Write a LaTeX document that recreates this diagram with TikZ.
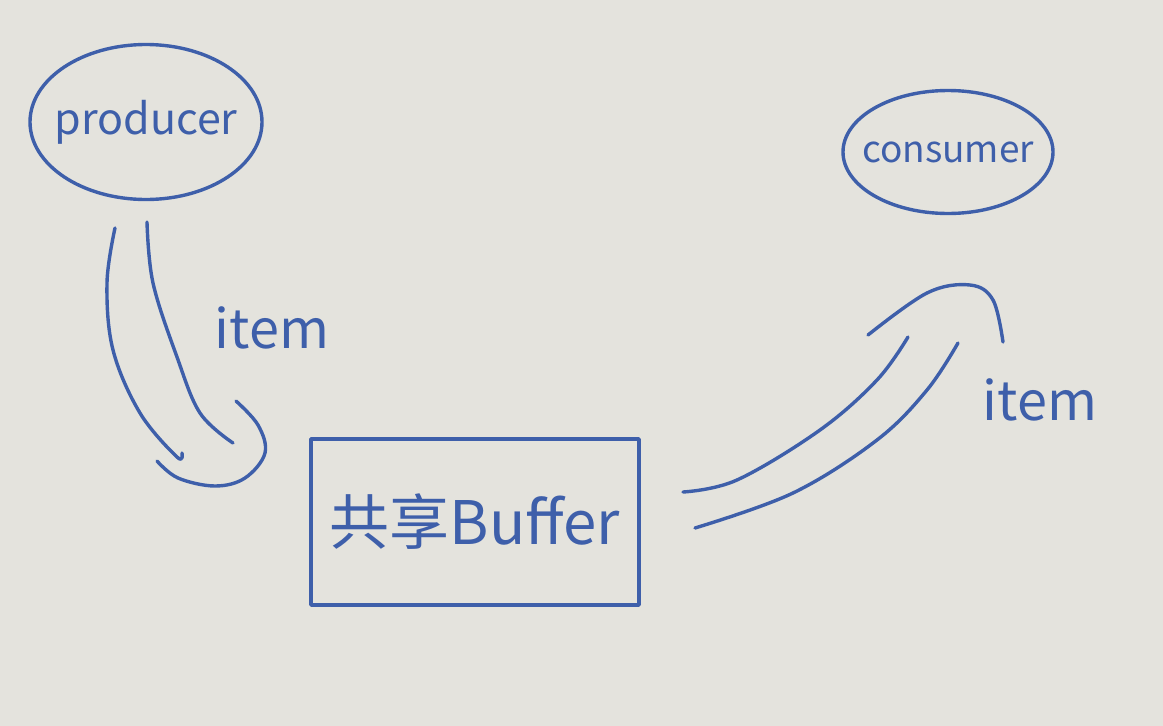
\documentclass[tikz,border=0pt]{standalone}
\usepackage{fontspec}
\setmainfont{Noto Sans CJK SC}
\usetikzlibrary{shapes.geometric}
\definecolor{paper}{RGB}{228,227,221}
\definecolor{ink}{RGB}{62,95,170}
\tikzset{
  inkline/.style={draw=ink, line width=3.4pt, line cap=round, line join=round},
  bubble/.style={inkline, ellipse, text=ink, inner xsep=-40pt, inner ysep=0pt},
  lbl/.style={text=ink, inner sep=0pt, font=\fontsize{54}{54}\selectfont}
}
\begin{document}
\begin{tikzpicture}[x=1pt,y=-1pt]
\fill[paper] (0,0) rectangle (1163,726);
\useasboundingbox (0,0) rectangle (1163,726);

\node[bubble, minimum width=232pt, minimum height=155pt, font=\fontsize{43}{43}\selectfont] (prod) at (146,122) {producer};
\node[bubble, minimum width=210pt, minimum height=123pt, font=\fontsize{37}{37}\selectfont] (cons) at (948,152) {consumer};
\node[inkline, rectangle, minimum width=328pt, minimum height=166pt, text=ink, font=\fontsize{60}{60}\selectfont] (buf) at (475,522) {共享Buffer};

\node[lbl] (item1) at (272,328) {item};
\node[lbl] (item2) at (1040,400) {item};

% left hollow arrow
\draw[inkline] plot[smooth, tension=0.6] coordinates {(115,228) (107,283) (113,350) (140,413) (177,457) (182,453)};
\draw[inkline] plot[smooth, tension=0.6] coordinates {(147,222) (153,283) (177,357) (200,413) (233,443)};
\draw[inkline] plot[smooth, tension=0.6] coordinates {(236,401) (258,425) (265,453) (245,478) (215,486) (178,478) (157,461)};

% right hollow arrow
\draw[inkline] plot[smooth, tension=0.6] coordinates {(683,492) (737,480) (820,430) (877,380) (908,337)};
\draw[inkline] plot[smooth, tension=0.6] coordinates {(695,528) (793,493) (877,440) (927,390) (958,343)};
\draw[inkline] plot[smooth, tension=0.6] coordinates {(868,335) (927,293) (970,285) (993,300) (1003,342)};
\end{tikzpicture}
\end{document}
